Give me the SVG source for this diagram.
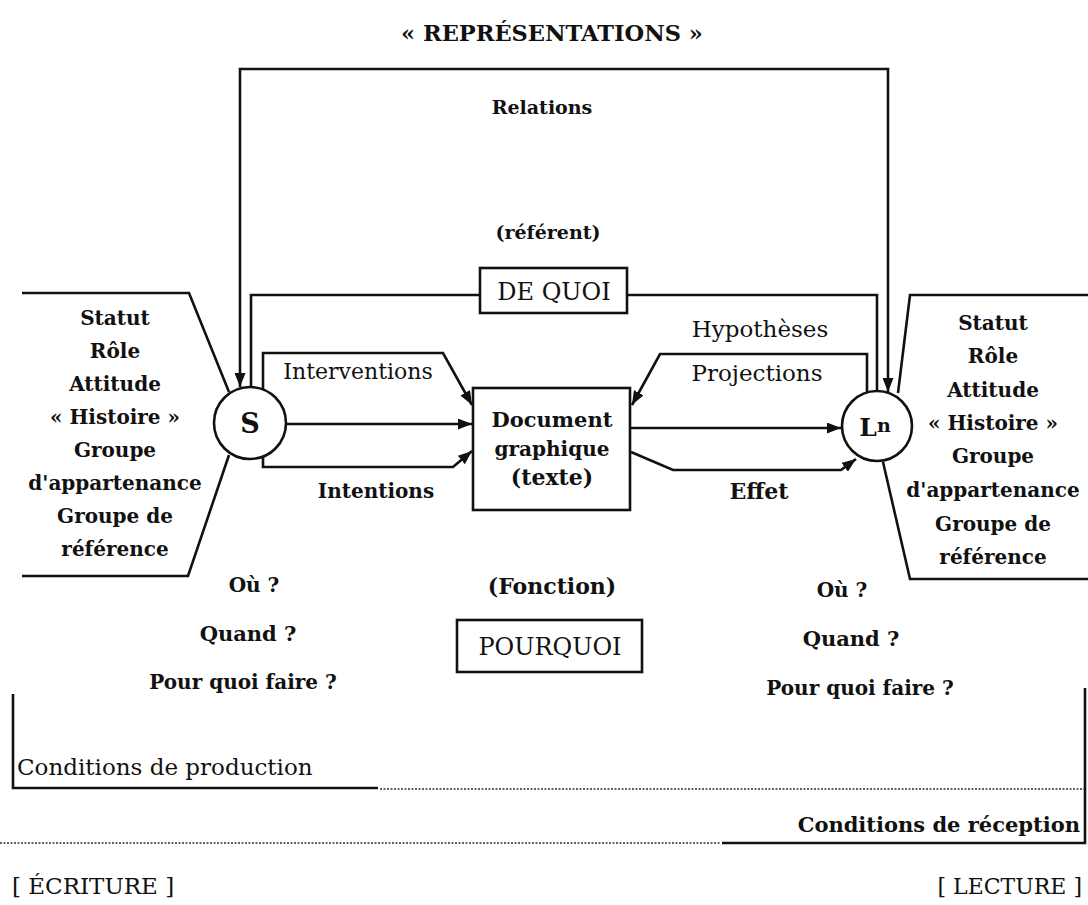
<svg xmlns="http://www.w3.org/2000/svg" width="1088" height="905" viewBox="0 0 1088 905">
<defs>
<style>
.t{font-family:"DejaVu Serif","Liberation Serif",serif;font-size:20px;fill:#111;text-anchor:middle}
.b{font-weight:bold}
.l{stroke:#111;stroke-width:2.6;fill:none;stroke-linejoin:miter}
.d{stroke:#333;stroke-width:1.6;fill:none;stroke-dasharray:2 1.5}
.box{stroke:#111;stroke-width:2.6;fill:#fff}
</style>
<marker id="ah" viewBox="0 0 14 11" refX="14" refY="5.5" markerWidth="14" markerHeight="11" markerUnits="userSpaceOnUse" orient="auto-start-reverse">
<path d="M0,0 L14,5.5 L0,11 Z" fill="#111"/>
</marker>
</defs>
<rect width="1088" height="905" fill="#fff"/>

<text class="t b" x="552" y="41" style="font-size:22.5px">« REPRÉSENTATIONS »</text>

<g id="connectors">
<path class="l" d="M240,387 V69 H888 V392" marker-start="url(#ah)" marker-end="url(#ah)"/>
<path class="l" d="M251,388 V295 H480"/>
<path class="l" d="M627,295 H877 V391"/>
<path class="l" d="M263,389 V353 H443 L472,405" marker-end="url(#ah)"/>
<path class="l" d="M286,424 H472" marker-end="url(#ah)"/>
<path class="l" d="M263,457 V467 H453 L472,451" marker-end="url(#ah)"/>
<path class="l" d="M867,392 V354 H660 L632,405" marker-end="url(#ah)"/>
<path class="l" d="M631,428 H841" marker-end="url(#ah)"/>
<path class="l" d="M631,452 L673,470 H841 L856,459" marker-end="url(#ah)"/>
</g>

<g id="panel-left">
<path class="l" d="M22,293 H189 L229,392"/>
<path class="l" d="M229,455 L188,576 H22"/>
<text class="t b" x="115" y="325">Statut</text>
<text class="t b" x="115" y="358">Rôle</text>
<text class="t b" x="115" y="391">Attitude</text>
<text class="t b" x="115" y="424">« Histoire »</text>
<text class="t b" x="115" y="457">Groupe</text>
<text class="t b" x="115" y="490">d'appartenance</text>
<text class="t b" x="115" y="523">Groupe de</text>
<text class="t b" x="115" y="556">référence</text>
</g>

<g id="panel-right">
<path class="l" d="M1088,295 H910 L898,393"/>
<path class="l" d="M883,462 L910,579 H1088"/>
<text class="t b" x="993" y="330">Statut</text>
<text class="t b" x="993" y="363">Rôle</text>
<text class="t b" x="993" y="397">Attitude</text>
<text class="t b" x="993" y="430">« Histoire »</text>
<text class="t b" x="993" y="463">Groupe</text>
<text class="t b" x="993" y="497">d'appartenance</text>
<text class="t b" x="993" y="531">Groupe de</text>
<text class="t b" x="993" y="564">référence</text>
</g>

<g id="node-S">
<circle class="box" cx="250" cy="423" r="36"/>
<text class="t b" x="250" y="433" style="font-size:27px">S</text>
</g>

<g id="node-Ln">
<circle class="box" cx="877" cy="426" r="35"/>
<text class="t b" x="875" y="436" style="font-size:25px">L<tspan style="font-size:19px" dy="-4">n</tspan></text>
</g>

<g id="node-document">
<rect class="box" x="473" y="388" width="157" height="122"/>
<text class="t b" x="552" y="427" style="font-size:21px">Document</text>
<text class="t b" x="552" y="456">graphique</text>
<text class="t b" x="552" y="485" style="font-size:22px">(texte)</text>
</g>

<g id="node-dequoi">
<rect class="box" x="480" y="268" width="147" height="45"/>
<text class="t" x="554" y="300" style="font-size:24px">DE QUOI</text>
</g>

<g id="node-pourquoi">
<rect class="box" x="457" y="620" width="185" height="52"/>
<text class="t" x="550" y="655" style="font-size:24px">POURQUOI</text>
</g>

<g id="labels">
<text class="t b" x="542" y="114" style="font-size:19px">Relations</text>
<text class="t b" x="548" y="239" style="font-size:19px">(référent)</text>
<text class="t" x="358" y="379" style="font-size:22px">Interventions</text>
<text class="t b" x="376" y="498">Intentions</text>
<text class="t" x="760" y="337" style="font-size:23px">Hypothèses</text>
<text class="t" x="757" y="381" style="font-size:23px">Projections</text>
<text class="t b" x="759" y="499" style="font-size:22px">Effet</text>
<text class="t b" x="254" y="592">Où ?</text>
<text class="t b" x="248" y="641" style="font-size:21px">Quand ?</text>
<text class="t b" x="243" y="689">Pour quoi faire ?</text>
<text class="t b" x="552" y="594" style="font-size:22px">(Fonction)</text>
<text class="t b" x="842" y="597">Où ?</text>
<text class="t b" x="851" y="646" style="font-size:21px">Quand ?</text>
<text class="t b" x="860" y="695">Pour quoi faire ?</text>
</g>

<g id="conditions">
<path class="l" d="M13,694 V788 H378"/>
<path class="d" d="M380,789 H1085"/>
<path class="l" d="M1085,688 V843 H722"/>
<path class="d" d="M0,843 H720"/>
<text class="t" x="17" y="775" style="font-size:23px;text-anchor:start">Conditions de production</text>
<text class="t b" x="1080" y="832" style="font-size:21px;text-anchor:end">Conditions de réception</text>
<text class="t" x="12" y="894" style="font-size:23px;text-anchor:start">[ ÉCRITURE ]</text>
<text class="t" x="1082" y="894" style="font-size:22px;text-anchor:end">[ LECTURE ]</text>
</g>
</svg>
